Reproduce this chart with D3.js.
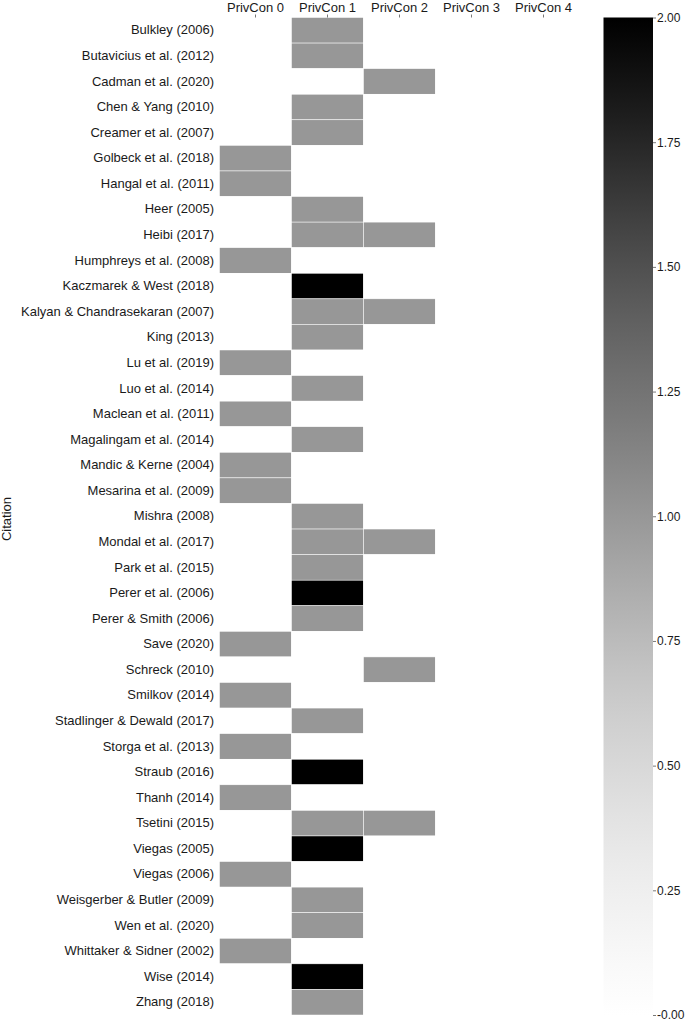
<!DOCTYPE html>
<html><head><meta charset="utf-8">
<script src="https://cdn.jsdelivr.net/npm/d3@7"></script>
<style>body{margin:0;background:#fff;} text{font-family:"Liberation Sans",Arial,sans-serif;}</style>
</head><body>
<svg id="chart" width="685" height="1021"></svg>
<script>
const citations = ["Bulkley (2006)","Butavicius et al. (2012)","Cadman et al. (2020)","Chen & Yang (2010)","Creamer et al. (2007)","Golbeck et al. (2018)","Hangal et al. (2011)","Heer (2005)","Heibi (2017)","Humphreys et al. (2008)","Kaczmarek & West (2018)","Kalyan & Chandrasekaran (2007)","King (2013)","Lu et al. (2019)","Luo et al. (2014)","Maclean et al. (2011)","Magalingam et al. (2014)","Mandic & Kerne (2004)","Mesarina et al. (2009)","Mishra (2008)","Mondal et al. (2017)","Park et al. (2015)","Perer et al. (2006)","Perer & Smith (2006)","Save (2020)","Schreck (2010)","Smilkov (2014)","Stadlinger & Dewald (2017)","Storga et al. (2013)","Straub (2016)","Thanh (2014)","Tsetini (2015)","Viegas (2005)","Viegas (2006)","Weisgerber & Butler (2009)","Wen et al. (2020)","Whittaker & Sidner (2002)","Wise (2014)","Zhang (2018)"];
const columns = ["PrivCon 0","PrivCon 1","PrivCon 2","PrivCon 3","PrivCon 4"];
const privCon0 = [0,0,0,0,0,1,1,0,0,1,0,0,0,1,0,1,0,1,1,0,0,0,0,0,1,0,1,0,1,0,1,0,0,1,0,0,1,0,0];
const privCon1 = [1,1,0,1,1,0,0,1,1,0,2,1,1,0,1,0,1,0,0,1,1,1,2,1,0,0,0,1,0,2,0,1,2,0,1,1,0,2,1];
const privCon2 = [0,0,1,0,0,0,0,0,1,0,0,1,0,0,0,0,0,0,0,0,1,0,0,0,0,1,0,0,0,0,0,1,0,0,0,0,0,0,0];
const privCon3 = [0,0,0,0,0,0,0,0,0,0,0,0,0,0,0,0,0,0,0,0,0,0,0,0,0,0,0,0,0,0,0,0,0,0,0,0,0,0,0];
const privCon4 = [0,0,0,0,0,0,0,0,0,0,0,0,0,0,0,0,0,0,0,0,0,0,0,0,0,0,0,0,0,0,0,0,0,0,0,0,0,0,0];
const series = [privCon0, privCon1, privCon2, privCon3, privCon4];
const cbTicks = [0,0.25,0.5,0.75,1,1.25,1.5,1.75,2];

const svg = d3.select("#chart");
const plotTop = 17.5, plotBottom = 1015;
const x = d3.scaleBand().domain(columns).range([219.5, 579.5]).padding(0);
const y = d3.scaleBand().domain(citations).range([plotTop, plotBottom]).padding(0);
const color = d3.scaleSequential(d3.interpolateGreys).domain([0,2]);
const FONT = "Liberation Sans, Arial, sans-serif";
const TXT = "#1a1a1a";

const cells = [];
series.forEach((s,ci)=>s.forEach((v,ri)=>cells.push({c:columns[ci], r:citations[ri], v})));
svg.append("g").selectAll("rect").data(cells).join("rect")
  .attr("x", d=>x(d.c)).attr("y", d=>y(d.r))
  .attr("width", x.bandwidth()).attr("height", y.bandwidth())
  .attr("fill", d=>color(d.v))
  .attr("stroke", "#fff").attr("stroke-width", 0.5);

// top axis
const xa = svg.append("g").attr("transform", `translate(0,${plotTop})`)
  .call(d3.axisTop(x).tickSize(3).tickPadding(2.5));
xa.select(".domain").remove();
xa.selectAll("text").attr("font-size", 13).attr("fill", TXT).style("font-family",FONT);
xa.selectAll("line").attr("stroke", "#555").attr("stroke-width", 0.8);

// left axis
const ya = svg.append("g").attr("transform", `translate(219.5,0)`)
  .call(d3.axisLeft(y).tickSize(0).tickPadding(5.5));
ya.select(".domain").remove();
ya.selectAll("text").attr("font-size", 13).attr("fill", TXT).style("font-family",FONT);

svg.append("text").attr("transform", "translate(11,519) rotate(-90)")
  .attr("text-anchor","middle").attr("font-size",13).attr("fill",TXT).style("font-family",FONT).text("Citation");

// colorbar
const cbX = 603.5, cbW = 49.5;
const cy = d3.scaleLinear().domain([0,2]).range([plotBottom, plotTop]);
const defs = svg.append("defs");
const grad = defs.append("linearGradient").attr("id","cbg").attr("x1",0).attr("y1",1).attr("x2",0).attr("y2",0);
d3.range(0,1.0001,0.05).forEach(t=>grad.append("stop").attr("offset",t).attr("stop-color", color(t*2)));
svg.append("rect").attr("x",cbX).attr("y",plotTop).attr("width",cbW).attr("height",plotBottom-plotTop).attr("fill","url(#cbg)");
const ca = svg.append("g").attr("transform",`translate(${cbX+cbW},0)`)
  .call(d3.axisRight(cy).tickValues(cbTicks).tickSize(3).tickPadding(1).tickFormat(d=> d===0 ? "-0.00" : d3.format(".2f")(d)));
ca.select(".domain").remove();
ca.selectAll("text").attr("font-size", 12).attr("fill", TXT).style("font-family",FONT);
ca.selectAll("line").attr("stroke", "#555").attr("stroke-width", 0.8);
</script>
</body></html>
